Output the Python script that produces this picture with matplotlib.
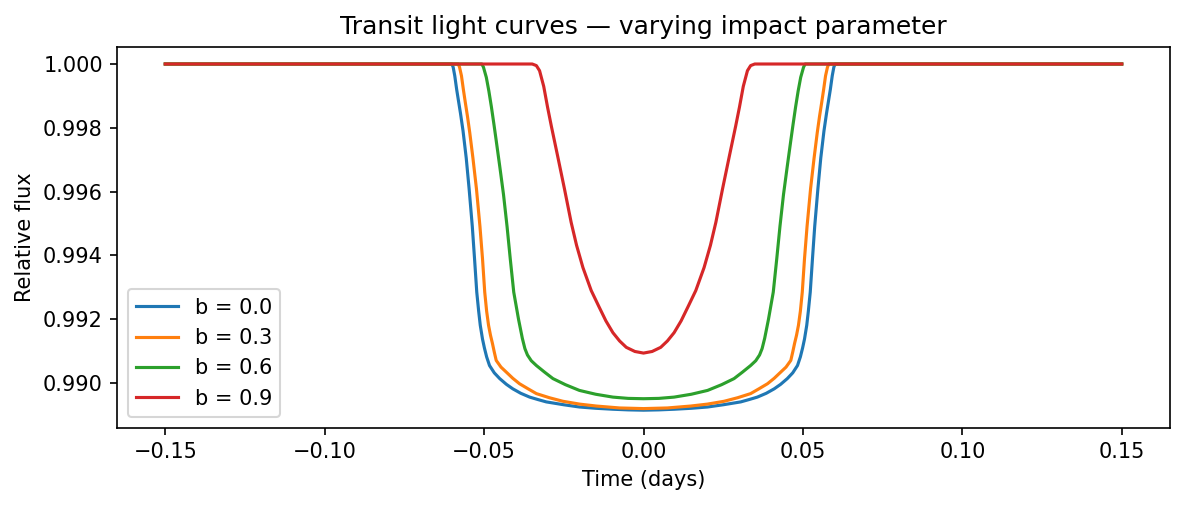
import matplotlib
matplotlib.use('Agg')
import matplotlib.pyplot as plt


# values (time in days, relative flux)
t_b00 = [-0.1500, -0.0601, -0.0597, -0.0592, -0.0586, -0.0582, -0.0574, -0.0566, -0.0556, -0.0547,
         -0.0537, -0.0530, -0.0523, -0.0517, -0.0512, -0.0505, -0.0499, -0.0492, -0.0483, -0.0468,
         -0.0451, -0.0430, -0.0410, -0.0385, -0.0357, -0.0330, -0.0305, -0.0250, -0.0201, -0.0150,
         -0.0096, -0.0048, 0.0,
         0.0048, 0.0096, 0.0150, 0.0201, 0.0250, 0.0305, 0.0330, 0.0357, 0.0385, 0.0410,
         0.0430, 0.0451, 0.0468, 0.0483, 0.0492, 0.0499, 0.0505, 0.0512, 0.0517, 0.0523,
         0.0530, 0.0537, 0.0547, 0.0556, 0.0566, 0.0574, 0.0582, 0.0586, 0.0592, 0.0597,
         0.0601, 0.1500]
f_b00 = [1.00000, 1.00000, 0.99990, 0.99963, 0.99920, 0.99895, 0.99845, 0.99790, 0.99705, 0.99609,
         0.99491, 0.99390, 0.99285, 0.99225, 0.99181, 0.99138, 0.99110, 0.99082, 0.99055, 0.99032,
         0.99014, 0.98996, 0.98982, 0.98968, 0.98956, 0.98948, 0.98941, 0.98932, 0.98925, 0.98921,
         0.98918, 0.98916, 0.98915,
         0.98916, 0.98918, 0.98921, 0.98925, 0.98932, 0.98941, 0.98948, 0.98956, 0.98968, 0.98982,
         0.98996, 0.99014, 0.99032, 0.99055, 0.99082, 0.99110, 0.99138, 0.99181, 0.99225, 0.99285,
         0.99390, 0.99491, 0.99609, 0.99705, 0.99790, 0.99845, 0.99895, 0.99920, 0.99963, 0.99990,
         1.00000, 1.00000]

t_b03 = [-0.1500, -0.0581, -0.0577, -0.0571, -0.0565, -0.0559, -0.0552, -0.0545, -0.0535, -0.0524,
         -0.0513, -0.0505, -0.0498, -0.0492, -0.0486, -0.0480, -0.0474, -0.0468, -0.0462, -0.0447,
         -0.0430, -0.0410, -0.0389, -0.0362, -0.0336, -0.0295, -0.0253, -0.0200, -0.0148, -0.0075,
         0.0,
         0.0075, 0.0148, 0.0200, 0.0253, 0.0295, 0.0336, 0.0362, 0.0389, 0.0410, 0.0430,
         0.0447, 0.0462, 0.0468, 0.0474, 0.0480, 0.0486, 0.0492, 0.0498, 0.0505, 0.0513,
         0.0524, 0.0535, 0.0545, 0.0552, 0.0559, 0.0565, 0.0571, 0.0577, 0.0581, 0.1500]
f_b03 = [1.00000, 1.00000, 0.99990, 0.99963, 0.99920, 0.99880, 0.99835, 0.99785, 0.99705, 0.99609,
         0.99491, 0.99390, 0.99285, 0.99225, 0.99181, 0.99150, 0.99125, 0.99097, 0.99071, 0.99050,
         0.99034, 0.99015, 0.98998, 0.98982, 0.98967, 0.98954, 0.98943, 0.98934, 0.98928, 0.98922,
         0.98920,
         0.98922, 0.98928, 0.98934, 0.98943, 0.98954, 0.98967, 0.98982, 0.98998, 0.99015, 0.99034,
         0.99050, 0.99071, 0.99097, 0.99125, 0.99150, 0.99181, 0.99225, 0.99285, 0.99390, 0.99491,
         0.99609, 0.99705, 0.99785, 0.99835, 0.99880, 0.99920, 0.99963, 0.99990, 1.00000, 1.00000]

t_b06 = [-0.1500, -0.0507, -0.0502, -0.0493, -0.0485, -0.0477, -0.0469, -0.0462, -0.0451, -0.0439,
         -0.0428, -0.0418, -0.0407, -0.0392, -0.0380, -0.0372, -0.0364, -0.0352, -0.0336, -0.0310,
         -0.0284, -0.0245, -0.0201, -0.0150, -0.0096, -0.0048, 0.0,
         0.0048, 0.0096, 0.0150, 0.0201, 0.0245, 0.0284, 0.0310, 0.0336, 0.0352, 0.0364,
         0.0372, 0.0380, 0.0392, 0.0407, 0.0418, 0.0428, 0.0439, 0.0451, 0.0462, 0.0469,
         0.0477, 0.0485, 0.0493, 0.0502, 0.0507, 0.1500]
f_b06 = [1.00000, 1.00000, 0.99990, 0.99958, 0.99915, 0.99865, 0.99810, 0.99760, 0.99680, 0.99590,
         0.99491, 0.99390, 0.99285, 0.99200, 0.99140, 0.99108, 0.99088, 0.99070, 0.99055, 0.99034,
         0.99014, 0.98995, 0.98977, 0.98965, 0.98956, 0.98952, 0.98951,
         0.98952, 0.98956, 0.98965, 0.98977, 0.98995, 0.99014, 0.99034, 0.99055, 0.99070, 0.99088,
         0.99108, 0.99140, 0.99200, 0.99285, 0.99390, 0.99491, 0.99590, 0.99680, 0.99760, 0.99810,
         0.99865, 0.99915, 0.99958, 0.99990, 1.00000, 1.00000]

t_b09 = [-0.1500, -0.0349, -0.0336, -0.0326, -0.0313, -0.0301, -0.0289, -0.0269, -0.0248, -0.0227,
         -0.0210, -0.0190, -0.0164, -0.0140, -0.0118, -0.0096, -0.0075, -0.0054, -0.0027, 0.0,
         0.0027, 0.0054, 0.0075, 0.0096, 0.0118, 0.0140, 0.0164, 0.0190, 0.0210, 0.0227,
         0.0248, 0.0269, 0.0289, 0.0301, 0.0313, 0.0326, 0.0336, 0.0349, 0.1500]
f_b09 = [1.00000, 1.00000, 0.99995, 0.99979, 0.99930, 0.99865, 0.99805, 0.99710, 0.99609, 0.99504,
         0.99432, 0.99362, 0.99290, 0.99240, 0.99195, 0.99158, 0.99132, 0.99112, 0.99099, 0.99094,
         0.99099, 0.99112, 0.99132, 0.99158, 0.99195, 0.99240, 0.99290, 0.99362, 0.99432, 0.99504,
         0.99609, 0.99710, 0.99805, 0.99865, 0.99930, 0.99979, 0.99995, 1.00000, 1.00000]

curves = [
    (t_b00, f_b00, 'b = 0.0'),
    (t_b03, f_b03, 'b = 0.3'),
    (t_b06, f_b06, 'b = 0.6'),
    (t_b09, f_b09, 'b = 0.9'),
]

fig, ax = plt.subplots(figsize=(1184 / 150, 507 / 150), dpi=150)
fig.subplots_adjust(left=0.0992, right=0.9878, top=0.9079, bottom=0.1568)

for t, f, lab in curves:
    ax.plot(t, f, label=lab)

ax.set_title('Transit light curves \u2014 varying impact parameter')
ax.set_xlabel('Time (days)')
ax.set_ylabel('Relative flux')
ax.legend(loc='lower left')

fig.savefig('out.png', dpi=150)
